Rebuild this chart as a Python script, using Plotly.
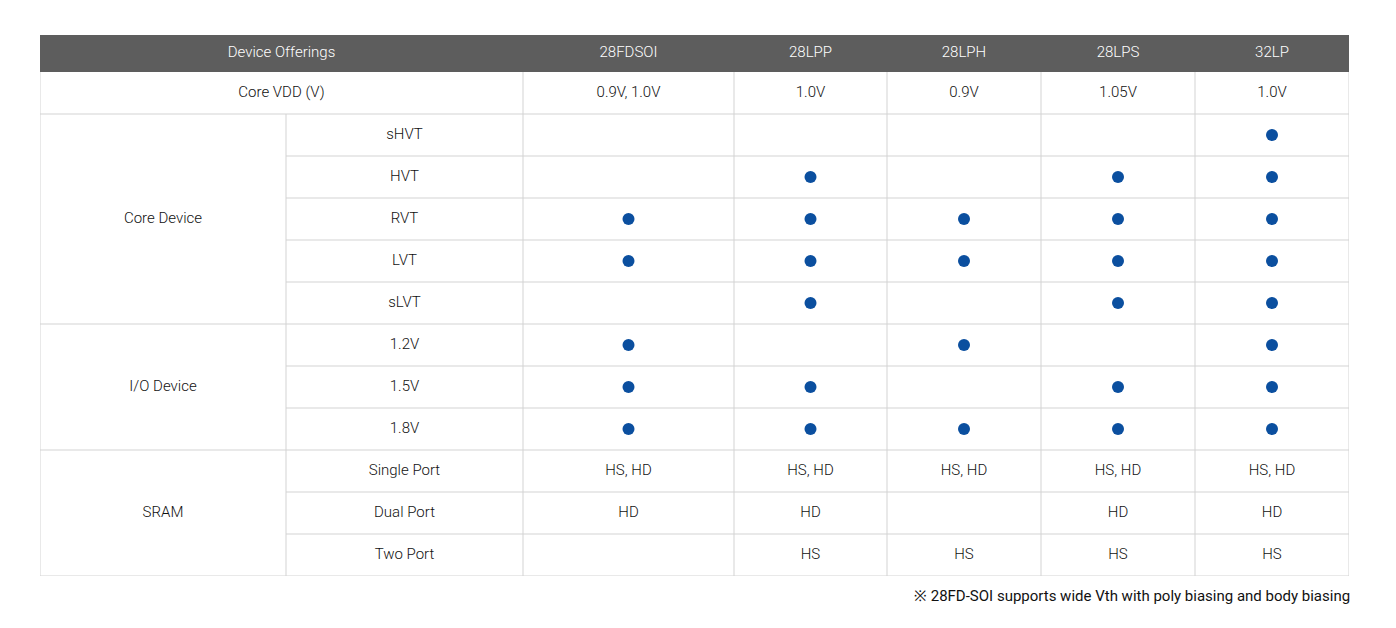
import plotly.graph_objects as go

# ---- data ----
processes = ["28FDSOI", "28LPP", "28LPH", "28LPS", "32LP"]
core_vdd = ["0.9V, 1.0V", "1.0V", "0.9V", "1.05V", "1.0V"]

group_names = ["Core Device", "I/O Device", "SRAM"]
group_items = [["sHVT", "HVT", "RVT", "LVT", "sLVT"],
               ["1.2V", "1.5V", "1.8V"],
               ["Single Port", "Dual Port", "Two Port"]]

# 1 = supported (dot), per item row, per process
core_support = [[0, 0, 0, 0, 1],
                [0, 1, 0, 1, 1],
                [1, 1, 1, 1, 1],
                [1, 1, 1, 1, 1],
                [0, 1, 0, 1, 1]]
io_support = [[1, 0, 1, 0, 1],
              [1, 1, 0, 1, 1],
              [1, 1, 1, 1, 1]]
sram_text = [["HS, HD", "HS, HD", "HS, HD", "HS, HD", "HS, HD"],
             ["HD", "HD", "", "HD", "HD"],
             ["", "HS", "HS", "HS", "HS"]]

footnote = "※ 28FD-SOI supports wide Vth with poly biasing and body biasing"

# ---- layout constants (pixel units) ----
col_w = [246, 237, 211, 153, 154, 154, 154]
head_h = 37
row_h = 42
line_col = "#d3d3d3"
font_fam = "Roboto, Arial"
font_w = 300
txt_col = "#111111"

col_edges = [0]
for w in col_w:
    col_edges.append(col_edges[-1] + w)
total_w = col_edges[-1]
n_rows = 1 + sum(len(g) for g in group_items)
row_edges = [0, head_h] + [head_h + row_h * (i + 1) for i in range(n_rows)]
total_h = row_edges[-1]


def col_mid(i):
    return (col_edges[i] + col_edges[i + 1]) / 2


def row_mid(i):
    return (row_edges[i] + row_edges[i + 1]) / 2


fig = go.Figure()
shapes = []

# header background
shapes.append(dict(type="rect", x0=0, x1=total_w, y0=0, y1=head_h,
                   fillcolor="#5d5d5d", line_width=0, layer="below"))

# horizontal lines
group_starts = []
r = 2
for items in group_items:
    group_starts.append(r)
    r += len(items)
for i in range(2, n_rows + 2):
    x0 = 0 if (i in group_starts or i == n_rows + 1) else col_edges[1]
    shapes.append(dict(type="line", x0=x0, x1=total_w, y0=row_edges[i], y1=row_edges[i],
                       line=dict(color=line_col, width=1)))
# vertical lines
shapes.append(dict(type="line", x0=0, x1=0, y0=head_h, y1=total_h, line=dict(color=line_col, width=1)))
shapes.append(dict(type="line", x0=total_w, x1=total_w, y0=head_h, y1=total_h, line=dict(color=line_col, width=1)))
shapes.append(dict(type="line", x0=col_edges[1], x1=col_edges[1], y0=row_edges[2], y1=total_h,
                   line=dict(color=line_col, width=1)))
for c in range(2, len(col_edges) - 1):
    shapes.append(dict(type="line", x0=col_edges[c], x1=col_edges[c], y0=head_h, y1=total_h,
                       line=dict(color=line_col, width=1)))

# header text
hx = [col_edges[2] / 2] + [col_mid(c + 2) for c in range(len(processes))]
hy = [row_mid(0)] * len(hx)
fig.add_trace(go.Scatter(x=hx, y=hy, mode="text", text=["Device Offerings"] + processes,
                         textfont=dict(color="white", size=15, family=font_fam, weight=font_w),
                         hoverinfo="skip"))

# body text
tx, ty, tt = [], [], []
tx.append(col_edges[2] / 2); ty.append(row_mid(1)); tt.append("Core VDD (V)")
for c, v in enumerate(core_vdd):
    tx.append(col_mid(c + 2)); ty.append(row_mid(1)); tt.append(v)
for g, (name, items) in enumerate(zip(group_names, group_items)):
    r0 = group_starts[g]
    tx.append(col_mid(0)); ty.append((row_edges[r0] + row_edges[r0 + len(items)]) / 2); tt.append(name)
    for k, it in enumerate(items):
        tx.append(col_mid(1)); ty.append(row_mid(r0 + k)); tt.append(it)
for k, row in enumerate(sram_text):
    for c, v in enumerate(row):
        if v:
            tx.append(col_mid(c + 2)); ty.append(row_mid(group_starts[2] + k)); tt.append(v)
fig.add_trace(go.Scatter(x=tx, y=ty, mode="text", text=tt,
                         textfont=dict(color=txt_col, size=15, family=font_fam, weight=font_w),
                         hoverinfo="skip"))

# dots
dx, dy = [], []
for g, support in ((0, core_support), (1, io_support)):
    for k, row in enumerate(support):
        for c, v in enumerate(row):
            if v:
                dx.append(col_mid(c + 2)); dy.append(row_mid(group_starts[g] + k))
fig.add_trace(go.Scatter(x=dx, y=dy, mode="markers",
                         marker=dict(color="#0b4f9f", size=12, line_width=0), hoverinfo="skip"))

fig.add_annotation(text=footnote, xref="paper", yref="paper", x=1, y=0, yshift=-20, xshift=3,
                   xanchor="right", yanchor="middle", showarrow=False,
                   font=dict(color=txt_col, size=15, family=font_fam, weight=400))

fig.update_layout(width=1380, height=612, shapes=shapes, showlegend=False,
                  margin=dict(l=32, r=39, t=27, b=44),
                  paper_bgcolor="white", plot_bgcolor="white",
                  xaxis=dict(range=[0, total_w], visible=False, fixedrange=True),
                  yaxis=dict(range=[total_h, 0], visible=False, fixedrange=True))
fig.write_html("out.html")
